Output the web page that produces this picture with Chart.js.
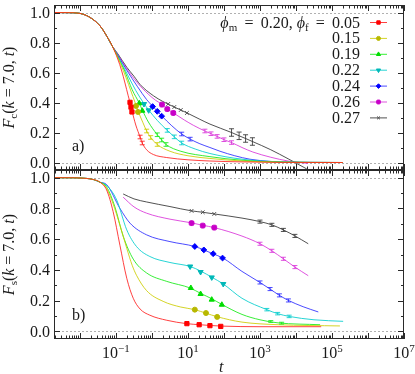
<!DOCTYPE html>
<html>
<head>
<meta charset="utf-8">
<script src="https://cdn.jsdelivr.net/npm/chart.js@4/dist/chart.umd.min.js"></script>
<style>
  html, body { margin: 0; padding: 0; background: #fff; }
  #wrap { position: relative; width: 415px; height: 374px; }
  #wrap canvas { position: absolute; left: 0; top: 0; }
</style>
</head>
<body>
<div id="wrap">
  <canvas id="fc" width="415" height="374"></canvas>
  <canvas id="fs" width="415" height="374"></canvas>
</div>
<script>
// phi_f values of the seven series
const phiF = ["0.05", "0.15", "0.19", "0.22", "0.24", "0.26", "0.27"];

// axis ranges and tick labels
const xMin = 0.0019, xMax = 1e7;
const yMin = -0.05, yMax = 1.05;
const yTicks = [0, 0.2, 0.4, 0.6, 0.8, 1.0];
const xTickExp = [-1, 1, 3, 5, 7];

// curves are [log10 t, F]
// ---- panel a) F_c ----
const fcStart = [[-2.72, 1.0], [-2.3, 0.999], [-2.0, 0.994], [-1.72, 0.967], [-1.44, 0.91], [-1.25, 0.84], [-1.1, 0.775]];
const fc005 = fcStart.concat([[-0.95, 0.69], [-0.84, 0.61], [-0.75, 0.53], [-0.66, 0.445], [-0.61, 0.4], [-0.556, 0.345], [-0.45, 0.25], [-0.33, 0.17], [-0.27, 0.13], [-0.15, 0.085], [0.04, 0.053], [0.41, 0.033], [1.0, 0.018], [1.61, 0.01], [2.5, 0.004], [3.5, 0.001], [5.3, 0.0]]);
const fc015 = fcStart.concat([[-0.95, 0.7], [-0.8, 0.615], [-0.65, 0.52], [-0.53, 0.44], [-0.444, 0.383], [-0.389, 0.345], [-0.25, 0.265], [-0.148, 0.21], [-0.036, 0.167], [0.147, 0.12], [0.5, 0.075], [1.0, 0.045], [1.61, 0.027], [2.5, 0.01], [3.5, 0.002], [5.3, 0.0]]);
const fc019 = fcStart.concat([[-0.95, 0.705], [-0.75, 0.605], [-0.55, 0.485], [-0.353, 0.395], [-0.269, 0.35], [-0.1, 0.27], [0.147, 0.185], [0.269, 0.15], [0.389, 0.12], [0.8, 0.075], [1.61, 0.039], [2.5, 0.015], [3.5, 0.003], [5.3, 0.0]]);
const fc022 = fcStart.concat([[-0.95, 0.71], [-0.7, 0.595], [-0.45, 0.48], [-0.222, 0.393], [-0.092, 0.35], [0.15, 0.28], [0.425, 0.214], [0.62, 0.171], [0.825, 0.13], [1.2, 0.09], [1.61, 0.06], [2.5, 0.022], [3.5, 0.005], [5.3, 0.0]]);
const fc024 = fcStart.concat([[-0.95, 0.715], [-0.7, 0.615], [-0.4, 0.505], [-0.15, 0.42], [0.019, 0.375], [0.147, 0.343], [0.269, 0.311], [0.55, 0.245], [0.825, 0.19], [1.06, 0.156], [1.33, 0.125], [1.61, 0.1], [1.89, 0.075], [2.3, 0.045], [2.72, 0.022], [3.3, 0.007], [3.83, 0.002], [5.3, 0.0]]);
const fc026 = fcStart.concat([[-0.95, 0.72], [-0.7, 0.625], [-0.4, 0.53], [-0.1, 0.455], [0.1, 0.415], [0.278, 0.388], [0.425, 0.358], [0.592, 0.331], [0.9, 0.283], [1.15, 0.248], [1.47, 0.21], [1.64, 0.192], [1.81, 0.174], [2.0, 0.152], [2.21, 0.133], [2.5, 0.1], [2.8, 0.07], [3.3, 0.035], [3.78, 0.01], [4.33, -0.006]]);
const fc027 = fcStart.concat([[-0.95, 0.725], [-0.7, 0.635], [-0.5, 0.575], [-0.33, 0.52], [0.04, 0.445], [0.3, 0.407], [0.6, 0.372], [0.96, 0.332], [1.33, 0.288], [1.61, 0.256], [2.21, 0.2], [2.42, 0.178], [2.6, 0.16], [2.79, 0.14], [3.3, 0.085], [3.78, 0.025], [4.3, -0.043]]);

const fcMark005 = [[-0.61, 0.401], [-0.583, 0.369], [-0.556, 0.337]];
const fcMark015 = [[-0.444, 0.377], [-0.389, 0.337]];
const fcMark019 = [[-0.353, 0.395], [-0.269, 0.345]];
const fcMark022 = [[-0.222, 0.39], [-0.092, 0.348]];
const fcMark024 = [[0.019, 0.373], [0.147, 0.341], [0.269, 0.309]];
const fcMark026 = [[0.278, 0.386], [0.425, 0.356], [0.592, 0.33]];
const fcMark027 = [[0.45, 0.39], [0.62, 0.37], [0.8, 0.35], [0.97, 0.33]];

// [log10 t, F, half error]
const fcErr005 = [[-0.33, 0.17, 0.012], [-0.27, 0.13, 0.012]];
const fcErr015 = [[-0.148, 0.21, 0.012], [-0.036, 0.167, 0.012], [0.147, 0.12, 0.012]];
const fcErr019 = [[0.147, 0.185, 0.012], [0.269, 0.15, 0.012], [0.389, 0.12, 0.012]];
const fcErr022 = [[0.425, 0.214, 0.012], [0.62, 0.171, 0.012], [0.825, 0.13, 0.012]];
const fcErr024 = [[0.825, 0.19, 0.012], [1.06, 0.156, 0.012]];
const fcErr026 = [[1.47, 0.21, 0.012], [1.64, 0.192, 0.012], [1.81, 0.174, 0.012], [2.0, 0.152, 0.012], [2.21, 0.133, 0.012]];
const fcErr027 = [[2.21, 0.2, 0.025], [2.42, 0.178, 0.025], [2.6, 0.16, 0.025], [2.79, 0.14, 0.025]];

// ---- panel b) F_s ----
const fsStart = [[-2.72, 1.0], [-2.3, 0.9995], [-2.0, 0.998], [-1.63, 0.988], [-1.44, 0.97]];
const fs005 = fsStart.concat([[-1.26, 0.92], [-1.08, 0.78], [-0.89, 0.56], [-0.7, 0.345], [-0.52, 0.215], [-0.33, 0.145], [-0.06, 0.105], [0.41, 0.072], [0.96, 0.05], [1.33, 0.043], [1.61, 0.038], [1.94, 0.034], [3.0, 0.03], [4.7, 0.03]]);
const fs015 = fsStart.concat([[-1.26, 0.93], [-1.08, 0.83], [-0.89, 0.69], [-0.7, 0.54], [-0.55, 0.43], [-0.43, 0.365], [-0.15, 0.265], [0.31, 0.195], [0.8, 0.158], [1.19, 0.141], [1.5, 0.118], [1.81, 0.095], [2.5, 0.06], [3.5, 0.043], [5.22, 0.035]]);
const fs019 = fsStart.concat([[-1.26, 0.94], [-1.03, 0.81], [-0.8, 0.62], [-0.52, 0.47], [-0.15, 0.38], [0.41, 0.325], [1.06, 0.282], [1.35, 0.247], [1.66, 0.212], [1.94, 0.175], [2.5, 0.11], [3.0, 0.075], [3.5, 0.055], [4.67, 0.043]]);
const fs022 = fsStart.concat([[-1.26, 0.95], [-0.98, 0.855], [-0.7, 0.66], [-0.43, 0.552], [-0.06, 0.487], [0.5, 0.448], [1.06, 0.422], [1.37, 0.39], [1.67, 0.351], [1.98, 0.308], [2.5, 0.215], [3.19, 0.141], [3.49, 0.115], [3.81, 0.097], [4.5, 0.075], [5.31, 0.065]]);
const fs024 = fsStart.concat([[-1.26, 0.955], [-0.89, 0.8], [-0.61, 0.704], [-0.15, 0.628], [0.5, 0.584], [1.19, 0.552], [1.44, 0.53], [1.69, 0.505], [1.97, 0.477], [2.5, 0.39], [3.0, 0.318], [3.28, 0.275], [3.54, 0.234], [3.79, 0.201], [4.2, 0.16], [4.62, 0.126]]);
const fs026 = [[-0.8, 0.873], [-0.5, 0.81], [-0.15, 0.769], [0.5, 0.73], [1.1, 0.706], [1.41, 0.69], [1.73, 0.675], [2.5, 0.62], [3.0, 0.57], [3.33, 0.524], [3.65, 0.472], [3.97, 0.418], [4.34, 0.362]];
const fs027 = [[-0.8, 0.894], [-0.5, 0.862], [-0.15, 0.842], [0.5, 0.812], [1.1, 0.784], [1.41, 0.775], [1.73, 0.764], [2.5, 0.737], [3.0, 0.714], [3.33, 0.693], [3.65, 0.66], [3.97, 0.621], [4.34, 0.57]];

const fsMark005 = [[0.97, 0.05], [1.31, 0.043], [1.61, 0.037], [1.91, 0.032]];
const fsMark015 = [[1.19, 0.141], [1.5, 0.119], [1.81, 0.094]];
const fsMark019 = [[1.08, 0.282], [1.35, 0.243], [1.66, 0.206], [1.94, 0.173]];
const fsMark022 = [[1.06, 0.422], [1.35, 0.386], [1.66, 0.351], [1.98, 0.308]];
const fsMark024 = [[1.19, 0.552], [1.44, 0.53], [1.7, 0.505], [1.96, 0.477]];
const fsMark026 = [[1.1, 0.704], [1.41, 0.688], [1.73, 0.675]];
const fsMark027 = [[1.1, 0.784], [1.41, 0.775], [1.73, 0.764]];

const fsErr005 = [];
const fsErr015 = [];
const fsErr019 = [[3.3, 0.064, 0.006], [3.6, 0.053, 0.006]];
const fsErr022 = [[3.19, 0.141, 0.008], [3.49, 0.115, 0.008], [3.81, 0.097, 0.008]];
const fsErr024 = [[3.0, 0.318, 0.01], [3.28, 0.275, 0.01], [3.54, 0.234, 0.01], [3.79, 0.201, 0.01]];
const fsErr026 = [[3.0, 0.57, 0.01], [3.33, 0.524, 0.01], [3.65, 0.472, 0.01], [3.97, 0.418, 0.01]];
const fsErr027 = [[3.0, 0.714, 0.01], [3.33, 0.693, 0.01], [3.65, 0.66, 0.01], [3.97, 0.621, 0.01]];

// styles
const lineColors = ["rgba(255,30,30,0.85)", "rgba(205,205,0,0.85)", "rgba(20,235,20,0.85)", "rgba(0,205,205,0.85)", "rgba(30,30,255,0.8)", "rgba(215,40,215,0.8)", "rgba(50,50,50,0.85)"];
const markColors = ["#ff0000", "#b8b800", "#00dd00", "#00b8b8", "#0000ff", "#c800c8", "#505050"];
const markStyles = ["rect", "circle", "triangle", "triangle", "rectRot", "rectRounded", "crossRot"];
const markRot = [0, 0, 0, 180, 0, 0, 0];
const markSize = [3, 2.5, 3, 3, 2.9, 2.8, 2.6];

const SERIF = '"Liberation Serif", "DejaVu Serif", serif';
function font(size, italic) {
    return (italic ? "italic " : "") + size + "px " + SERIF;
}

function toPts(arr) {
    return arr.map((p) => ({ x: Math.pow(10, p[0]), y: p[1], e: p[2] }));
}

function richWidth(ctx, parts) {
    let w = 0;
    parts.forEach((p) => {
        ctx.font = p.f;
        w += ctx.measureText(p.t).width;
    });
    return w;
}

function drawRich(ctx, parts, x, y) {
    let cx = x;
    parts.forEach((p) => {
        ctx.font = p.f;
        ctx.fillText(p.t, cx, y + (p.dy || 0));
        cx += ctx.measureText(p.t).width;
    });
}

function seg(ctx, x1, y1, x2, y2) {
    ctx.beginPath();
    ctx.moveTo(x1, y1);
    ctx.lineTo(x2, y2);
    ctx.stroke();
}

// frame, inward ticks, labels, legend and error bars
const panelDecor = {
    id: "panelDecor",
    beforeDatasetsDraw(chart) {
        const { ctx, chartArea: a, scales } = chart;
        ctx.save();
        ctx.strokeStyle = "#b0b0b0";
        ctx.lineWidth = 1;
        ctx.setLineDash([2, 2]);
        [0, 1].forEach((v) => {
            const py = Math.round(scales.y.getPixelForValue(v)) + 0.5;
            seg(ctx, a.left, py, a.right, py);
        });
        ctx.restore();
    },
    afterDatasetsDraw(chart) {
        const { ctx, chartArea: a, scales } = chart;
        ctx.save();
        ctx.beginPath();
        ctx.rect(a.left, a.top, a.right - a.left, a.bottom - a.top);
        ctx.clip();
        ctx.lineWidth = 1;
        chart.data.datasets.forEach((ds) => {
            if (!ds.errColor) return;
            ctx.strokeStyle = ds.errColor;
            ds.data.forEach((p) => {
                const px = scales.x.getPixelForValue(p.x);
                const y1 = scales.y.getPixelForValue(p.y - p.e);
                const y2 = scales.y.getPixelForValue(p.y + p.e);
                seg(ctx, px, y1, px, y2);
                seg(ctx, px - 2.5, y1, px + 2.5, y1);
                seg(ctx, px - 2.5, y2, px + 2.5, y2);
            });
        });
        ctx.restore();
    },
    afterDraw(chart, args, opts) {
        const { ctx, chartArea: a, scales } = chart;
        const ax = scales.x, ay = scales.y;
        ctx.save();
        ctx.strokeStyle = "#2a2a2a";
        ctx.lineWidth = 1;
        ctx.strokeRect(a.left + 0.5, a.top + 0.5, a.right - a.left - 1, a.bottom - a.top - 1);

        for (let v = 0; v <= 10; v++) {
            const py = Math.round(ay.getPixelForValue(v / 10)) + 0.5;
            const len = v % 2 === 0 ? 6 : 3;
            seg(ctx, a.left, py, a.left + len, py);
            seg(ctx, a.right, py, a.right - len, py);
        }
        for (let d = -3; d <= 7; d++) {
            for (let m = 1; m <= 9; m++) {
                const val = m * Math.pow(10, d);
                if (val < xMin || val > xMax) continue;
                const px = Math.round(ax.getPixelForValue(val)) + 0.5;
                const len = m === 1 ? 6 : 3.5;
                seg(ctx, px, a.top, px, a.top + len);
                seg(ctx, px, a.bottom, px, a.bottom - len);
            }
        }

        ctx.fillStyle = "#1a1a1a";
        ctx.font = font(16);
        ctx.textAlign = "right";
        ctx.textBaseline = "middle";
        yTicks.forEach((v) => {
            ctx.fillText(v.toFixed(1), a.left - 4, ay.getPixelForValue(v) + 1);
        });

        ctx.textAlign = "left";
        ctx.textBaseline = "alphabetic";
        if (opts.xLabels) {
            xTickExp.forEach((e) => {
                const px = ax.getPixelForValue(Math.pow(10, e));
                const parts = [
                    { t: "10", f: font(16) },
                    { t: (e < 0 ? "\u2212" : "") + Math.abs(e), f: font(11), dy: -6.5 },
                ];
                drawRich(ctx, parts, px - richWidth(ctx, parts) / 2, a.bottom + 19);
            });
            ctx.font = font(16, true);
            ctx.fillText("t", a.left + 165, a.bottom + 33);
        }

        ctx.font = font(16);
        ctx.fillText(opts.tag, a.left + 18, a.bottom - 19);

        const tw = richWidth(ctx, opts.title);
        ctx.save();
        ctx.translate(14, (a.top + a.bottom) / 2);
        ctx.rotate(-Math.PI / 2);
        drawRich(ctx, opts.title, -tw / 2, 0);
        ctx.restore();

        if (opts.legend) {
            for (let i = 0; i < phiF.length; i++) {
                const cy = 22 + 15.9 * i;
                const parts = i === 0
                    ? [
                        { t: "\u03d5", f: font(16, true) },
                        { t: "m", f: font(11), dy: 3 },
                        { t: " \u2009=\u2009 0.20, ", f: font(16) },
                        { t: "\u03d5", f: font(16, true) },
                        { t: "f", f: font(11), dy: 3 },
                        { t: " \u2009=\u2009 " + phiF[i], f: font(16) },
                    ]
                    : [{ t: phiF[i], f: font(16) }];
                drawRich(ctx, parts, 360 - richWidth(ctx, parts), cy + 5.5);
                ctx.strokeStyle = lineColors[i];
                seg(ctx, 370, cy + 0.5, 387, cy + 0.5);
                ctx.fillStyle = markColors[i];
                ctx.strokeStyle = markColors[i];
                Chart.helpers.drawPoint(ctx, {
                    pointStyle: markStyles[i],
                    rotation: markRot[i],
                    radius: markSize[i] * 0.8,
                    borderWidth: 1,
                }, 378.5, cy + 0.5);
                ctx.fillStyle = "#1a1a1a";
            }
        }
        ctx.restore();
    },
};

function makeChart(id, lines, marks, errs, pad, decor) {
    const datasets = [];
    for (let i = 0; i < lines.length; i++) {
        datasets.push({
            data: toPts(marks[i]),
            showLine: false,
            pointStyle: markStyles[i],
            pointRotation: markRot[i],
            pointRadius: markSize[i],
            pointBackgroundColor: markColors[i],
            pointBorderColor: markColors[i],
            pointBorderWidth: 1,
        });
    }
    for (let i = 0; i < lines.length; i++) {
        datasets.push({
            data: toPts(errs[i]),
            showLine: false,
            pointRadius: 0,
            errColor: lineColors[i],
        });
    }
    for (let i = 0; i < lines.length; i++) {
        datasets.push({
            data: toPts(lines[i]),
            borderColor: lineColors[i],
            borderWidth: 1,
            pointRadius: 0,
            cubicInterpolationMode: "monotone",
            fill: false,
        });
    }
    return new Chart(document.getElementById(id), {
        type: "line",
        data: { datasets },
        options: {
            responsive: false,
            animation: false,
            devicePixelRatio: 1,
            events: [],
            layout: { padding: pad },
            scales: {
                x: { type: "logarithmic", min: xMin, max: xMax, display: false },
                y: { type: "linear", min: yMin, max: yMax, display: false },
            },
            plugins: {
                legend: { display: false },
                tooltip: { enabled: false },
                panelDecor: decor,
            },
        },
        plugins: [panelDecor],
    });
}

const titleFc = [
    { t: "F", f: font(16, true) },
    { t: "c", f: font(11), dy: 3 },
    { t: "(", f: font(16) },
    { t: "k", f: font(16, true) },
    { t: " = 7.0, ", f: font(16) },
    { t: "t", f: font(16, true) },
    { t: ")", f: font(16) },
];
const titleFs = [
    { t: "F", f: font(16, true) },
    { t: "s", f: font(11), dy: 3 },
    { t: "(", f: font(16) },
    { t: "k", f: font(16, true) },
    { t: " = 7.0, ", f: font(16) },
    { t: "t", f: font(16, true) },
    { t: ")", f: font(16) },
];

makeChart("fc",
    [fc005, fc015, fc019, fc022, fc024, fc026, fc027],
    [fcMark005, fcMark015, fcMark019, fcMark022, fcMark024, fcMark026, fcMark027],
    [fcErr005, fcErr015, fcErr019, fcErr022, fcErr024, fcErr026, fcErr027],
    { left: 54, right: 11, top: 0, bottom: 204 },
    { tag: "a)", title: titleFc, legend: true, xLabels: false });

makeChart("fs",
    [fs005, fs015, fs019, fs022, fs024, fs026, fs027],
    [fsMark005, fsMark015, fsMark019, fsMark022, fsMark024, fsMark026, fsMark027],
    [fsErr005, fsErr015, fsErr019, fsErr022, fsErr024, fsErr026, fsErr027],
    { left: 54, right: 11, top: 170, bottom: 35 },
    { tag: "b)", title: titleFs, legend: false, xLabels: true });
</script>
</body>
</html>
